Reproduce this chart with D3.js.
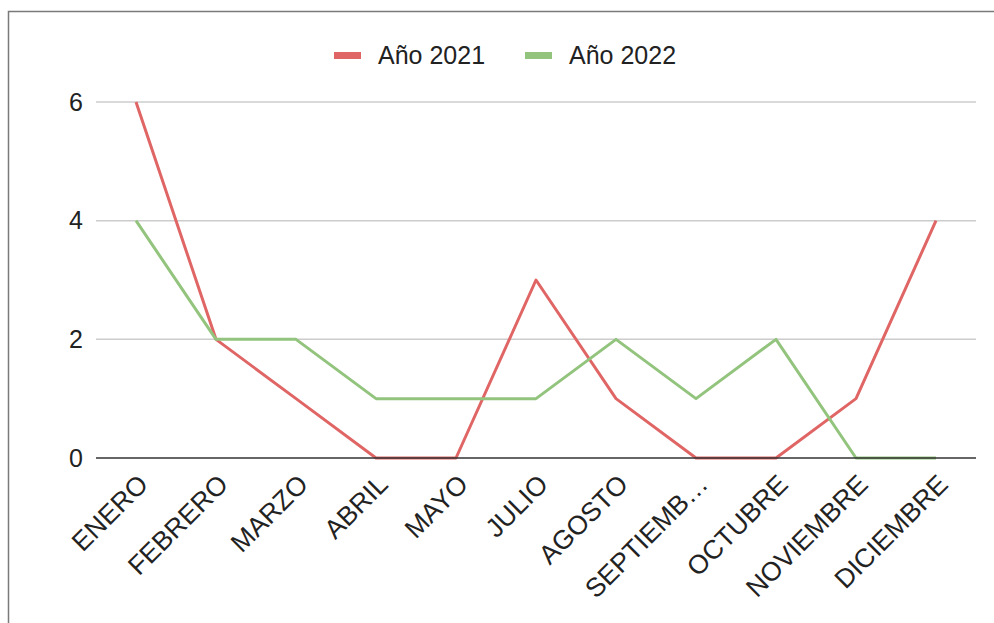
<!DOCTYPE html>
<html>
<head>
<meta charset="utf-8">
<script src="https://cdn.jsdelivr.net/npm/d3@7"></script>
<style>
  body { margin: 0; background: #fff; }
  text { font-family: "Liberation Sans", Arial, sans-serif; }
</style>
</head>
<body>
<svg id="chart" width="994" height="623"></svg>
<script>
var months = ['ENERO', 'FEBRERO', 'MARZO', 'ABRIL', 'MAYO', 'JULIO', 'AGOSTO', 'SEPTIEMB…', 'OCTUBRE', 'NOVIEMBRE', 'DICIEMBRE'];
var anio2021 = [6, 2, 1, 0, 0, 3, 1, 0, 0, 1, 4];
var anio2022 = [4, 2, 2, 1, 1, 1, 2, 1, 2, 0, 0];
var seriesNames = ['Año 2021', 'Año 2022'];
var yTicks = [0, 2, 4, 6];

var colors = ['#e06666', '#93c47d'];

var svg = d3.select('#chart'),
    margin = {top: 102, right: 18, bottom: 165, left: 96},
    width = +svg.attr('width') - margin.left - margin.right,
    height = +svg.attr('height') - margin.top - margin.bottom;

// frame
svg.append('rect')
  .attr('x', 8.5).attr('y', 11.5)
  .attr('width', 1100).attr('height', 700)
  .attr('fill', 'none')
  .attr('stroke', '#7a7a7a')
  .attr('stroke-width', 1.5);

var g = svg.append('g')
  .attr('transform', `translate(${margin.left}, ${margin.top})`);

var x = d3.scalePoint().domain(months).range([40, 840]);
var y = d3.scaleLinear().domain([0, 6]).range([height, 0]);

// gridlines
g.append('g')
  .selectAll('line')
  .data(yTicks.filter(d => d !== 0))
  .enter().append('line')
    .attr('x1', 0).attr('x2', width)
    .attr('y1', d => y(d)).attr('y2', d => y(d))
    .attr('stroke', '#cccccc')
    .attr('stroke-width', 1.5);

// y axis labels
var yAxis = g.append('g')
  .call(d3.axisLeft(y).tickValues(yTicks).tickFormat(d3.format('d')).tickSize(0).tickPadding(13));
yAxis.select('.domain').remove();
yAxis.selectAll('text')
  .attr('font-size', 25)
  .attr('fill', '#222')
  .style('font-family', '"Liberation Sans", Arial, sans-serif');

// x axis labels
var xAxis = g.append('g')
  .attr('transform', `translate(0, ${height})`)
  .call(d3.axisBottom(x).tickSize(0).tickPadding(0));
xAxis.select('.domain').remove();
xAxis.selectAll('text')
  .attr('font-size', 26.5)
  .attr('fill', '#222')
  .style('font-family', '"Liberation Sans", Arial, sans-serif')
  .attr('text-anchor', 'end')
  .attr('dy', 0)
  .attr('transform', 'translate(13, 28) rotate(-45)');

var line = d3.line()
  .x((d, i) => x(months[i]))
  .y(d => y(d));

[anio2021, anio2022].forEach(function(data, k) {
  g.append('path')
    .datum(data)
    .attr('fill', 'none')
    .attr('stroke', colors[k])
    .attr('stroke-width', 3)
    .attr('stroke-linejoin', 'round')
    .attr('d', line);
});

// baseline
g.append('line')
  .attr('x1', 0).attr('x2', width)
  .attr('y1', y(0)).attr('y2', y(0))
  .attr('stroke', '#333')
  .attr('stroke-width', 1.5);

// legend
var legendX = [334, 525];
var legend = svg.append('g');
seriesNames.forEach(function(name, k) {
  legend.append('rect')
    .attr('x', legendX[k]).attr('y', 52)
    .attr('width', 27).attr('height', 7)
    .attr('fill', colors[k]);
  legend.append('text')
    .attr('x', legendX[k] + 44).attr('y', 64)
    .attr('font-size', 25)
    .attr('fill', '#222')
    .text(name);
});
</script>
</body>
</html>
